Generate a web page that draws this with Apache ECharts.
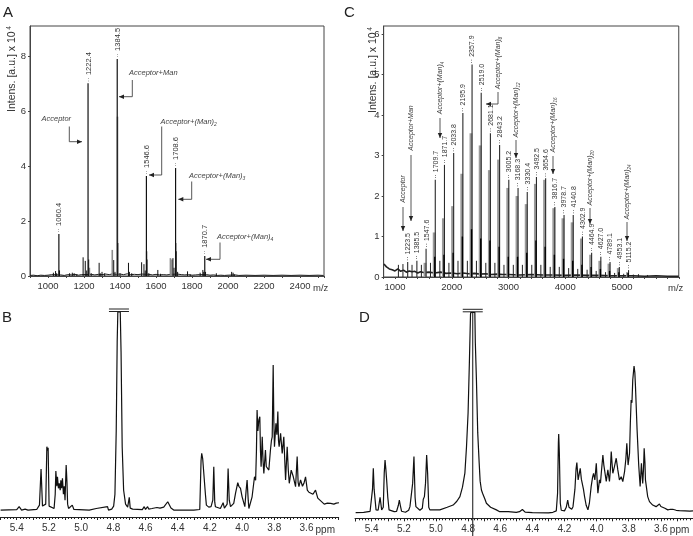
<!DOCTYPE html>
<html><head><meta charset="utf-8">
<script src="https://cdn.jsdelivr.net/npm/echarts@6/dist/echarts.min.js"></script>
<style>html,body{margin:0;padding:0;background:#fff}#c{width:693px;height:536px}</style>
</head><body><div id="c"></div><script>
// ---------- Panel A (MALDI, acceptor + few mannoses) ----------
const A_LABELLED = [[1060.4,1.53],[1222.4,7.02],[1384.5,7.9],[1546.6,3.64],[1708.6,3.93],[1870.7,0.73]];
const A_BLACK = [[1030,0.12],[1042,0.18],[1048,0.1],[1064,0.2],[1120,0.1],[1135,0.12],[1145,0.1],[1160,0.06],[1195,0.68],[1207,0.55],[1215,0.2],[1226,0.6],[1240,0.1],[1284,0.48],[1290,0.1],[1300,0.15],[1315,0.1],[1365,0.58],[1372,0.15],[1388,1.2],[1400,0.1],[1447,0.48],[1452,0.15],[1465,0.1],[1520,0.5],[1533,0.43],[1540,0.2],[1550,0.6],[1560,0.1],[1610,0.22],[1625,0.08],[1694,0.65],[1700,0.3],[1712,0.9],[1720,0.15],[1775,0.17],[1790,0.06],[1845,0.12],[1860,0.22],[1865,0.15],[1875,0.15],[1935,0.1],[2020,0.15],[2028,0.12],[2035,0.06]];
const A_GREY = [[1062,0.2],[1230,0.3],[1357,0.95],[1386,5.8],[1548,0.9],[1680,0.65],[1688,0.6],[1710,1.2]];
const A_NOISE = [[900,0.02],[920,0.03],[940,0.01],[960,0.03],[980,0.02],[1000,0.03],[1010,0.02],[1020,0.05],[1030,0.03],[1070,0.04],[1090,0.02],[1110,0.05],[1130,0.04],[1150,0.06],[1170,0.03],[1185,0.05],[1240,0.06],[1260,0.04],[1280,0.06],[1300,0.05],[1320,0.07],[1340,0.05],[1360,0.08],[1380,0.06],[1400,0.07],[1420,0.05],[1440,0.08],[1460,0.05],[1480,0.06],[1500,0.05],[1520,0.07],[1560,0.06],[1580,0.04],[1600,0.06],[1620,0.04],[1640,0.05],[1660,0.04],[1680,0.06],[1720,0.07],[1740,0.05],[1760,0.04],[1780,0.05],[1800,0.03],[1820,0.04],[1840,0.05],[1880,0.05],[1900,0.03],[1920,0.04],[1940,0.02],[1960,0.03],[1980,0.02],[2000,0.03],[2040,0.04],[2060,0.02],[2100,0.03],[2150,0.02],[2200,0.03],[2250,0.02],[2300,0.03],[2350,0.02],[2400,0.03],[2450,0.02],[2500,0.03],[2530,0.02]];
const A_X_LABELS = [1000,1200,1400,1600,1800,2000,2200,2400];

// ---------- Panel C (MALDI, polymer) ----------
const C_LABELLED = [[1223.5,0.37],[1385.5,0.4],[1547.6,0.7],[1709.7,2.4],[1871.7,2.77],[2033.8,3.06],[2195.9,4.05],[2357.9,5.25],[2519.0,4.55],[2681.1,3.55],[2843.2,3.26],[3005.2,2.4],[3168.3,2.2],[3330.4,2.1],[3492.5,2.47],[3654.6,2.44],[3816.7,1.73],[3978.7,1.53],[4140.8,1.53],[4302.9,1.0],[4464.9,0.6],[4627.0,0.5],[4789.1,0.37],[4953.1,0.25],[5115.2,0.17]];
const C_GREY = [[1528,0.35],[1690,1.1],[1852,1.45],[2014,1.75],[2176,2.55],[2338,3.55],[2500,3.25],[2662,2.64],[2824,2.9],[2986,2.2],[3149,2.0],[3311,1.8],[3473,2.3],[3635,2.4],[3797,1.7],[3959,1.45],[4121,1.35],[4284,0.95],[4446,0.55],[4608,0.4],[4770,0.33],[4934,0.22],[5096,0.12]];
const C_BLACK = [[1701,0.5],[1863,0.55],[2025,0.6],[2187,1.0],[2349,1.18],[2511,0.95],[2673,0.9],[2835,0.75],[2997,0.5],[3160,0.5],[3322,0.6],[3484,0.9],[3646,0.75],[3808,0.55],[3970,0.45],[4132,0.4],[4294,0.3],[4456,0.25],[4619,0.2],[4781,0.15],[4945,0.12],[5107,0.1]];
const C_MINOR = [[1060,0.3],[1140,0.32],[1300,0.3],[1465,0.3],[1625,0.35],[1790,0.4],[1950,0.35],[2110,0.4],[2275,0.4],[2435,0.4],[2600,0.35],[2760,0.35],[2920,0.3],[3085,0.3],[3245,0.3],[3410,0.3],[3570,0.3],[3735,0.25],[3895,0.25],[4060,0.22],[4220,0.2],[4385,0.18],[4545,0.15],[4710,0.12],[4870,0.1],[5030,0.08],[5200,0.06],[5290,0.07],[5450,0.05]];
const C_NOISE = [[805,0.32],[830,0.28],[850,0.25],[880,0.22],[900,0.2],[950,0.18],[1000,0.15],[1050,0.2],[1100,0.14],[1150,0.17],[1200,0.12],[1250,0.15],[1300,0.13],[1350,0.14],[1400,0.1],[1450,0.13],[1500,0.11],[1600,0.12],[1700,0.1],[1800,0.12],[1900,0.09],[2000,0.1],[2100,0.08],[2200,0.1],[2300,0.08],[2400,0.09],[2500,0.07],[2600,0.08],[2700,0.06],[2800,0.07],[2900,0.06],[3000,0.06],[3200,0.05],[3400,0.06],[3600,0.05],[3800,0.05],[4000,0.04],[4200,0.05],[4400,0.04],[4600,0.04],[4800,0.03],[5000,0.03],[5200,0.03],[5400,0.02],[5600,0.03],[5800,0.02],[6000,0.02]];
const C_X_LABELS = [1000,2000,3000,4000,5000];

// ---------- NMR spectra (ppm, relative intensity) ----------
const NMR_B = [[5.50,0],[5.40,0.2],[5.385,1.7],[5.37,0],[5.348,0.5],[5.33,0],[5.276,0.3],[5.259,2.5],[5.249,20.7],[5.240,2.0],[5.228,1.3],[5.220,3],[5.213,32],[5.209,30],[5.205,31.5],[5.199,2],[5.188,1.3],[5.168,0.8],[5.161,8],[5.157,19.7],[5.151,12],[5.147,16.8],[5.141,11],[5.136,13.5],[5.130,10],[5.126,15],[5.121,11],[5.116,16],[5.110,8],[5.105,12],[5.100,5],[5.093,22.7],[5.088,14],[5.084,3],[5.078,0.8],[5.068,0.3],[5.055,2.5],[5.045,0.3],[4.95,0],[4.906,0.8],[4.90,0],[4.836,1.7],[4.83,0],[4.81,0.5],[4.798,2],[4.790,8],[4.782,40],[4.776,85],[4.772,100],[4.757,100],[4.752,80],[4.745,32],[4.736,10],[4.724,3],[4.711,1.5],[4.701,6.4],[4.695,1],[4.68,0.5],[4.62,0.2],[4.608,1.7],[4.60,0.3],[4.587,1.7],[4.58,0.5],[4.56,0.8],[4.55,1.5],[4.529,1.3],[4.51,1],[4.487,1.5],[4.462,4.2],[4.442,1],[4.425,0],[4.30,0],[4.263,0.3],[4.255,25],[4.251,28.6],[4.245,26],[4.240,27],[4.234,25.3],[4.228,8],[4.222,2.5],[4.207,1.5],[4.193,1.7],[4.182,5],[4.176,21.9],[4.170,4],[4.166,1.7],[4.135,0.8],[4.118,3.7],[4.110,1],[4.104,0.8],[4.093,3],[4.087,21],[4.080,5],[4.072,1.7],[4.052,3.4],[4.041,8.4],[4.027,13.8],[4.020,12],[4.010,10.9],[4.000,6.7],[3.983,1.7],[3.975,10],[3.969,15.2],[3.962,5],[3.958,0.8],[3.938,6.7],[3.923,16.8],[3.916,15],[3.911,30],[3.907,50.5],[3.902,40],[3.896,45.5],[3.890,47.1],[3.886,30],[3.882,21.9],[3.875,37],[3.870,25],[3.865,18.5],[3.855,30.3],[3.850,22],[3.844,21.9],[3.834,20.2],[3.824,30.3],[3.818,35],[3.813,37],[3.807,73.2],[3.803,45],[3.799,32],[3.790,43.8],[3.784,38],[3.778,49.7],[3.774,35],[3.770,32],[3.761,38.7],[3.751,28.6],[3.741,37],[3.735,25],[3.730,15.2],[3.720,32],[3.713,20],[3.707,13.5],[3.695,20.2],[3.682,16.8],[3.668,11.8],[3.658,27],[3.652,14],[3.647,11.8],[3.637,15.2],[3.625,12],[3.616,13.5],[3.606,16.8],[3.595,10.1],[3.585,9],[3.575,8.4],[3.560,8],[3.544,10.1],[3.530,6],[3.523,5.9],[3.510,4.5],[3.502,4.2],[3.490,3],[3.481,2.5],[3.470,3.5],[3.450,3.4],[3.44,2.5],[3.430,3],[3.415,3.5],[3.398,3.7]];
const NMR_D = [[5.50,0.3],[5.45,0.5],[5.41,1.0],[5.404,1.7],[5.395,12],[5.39,22.4],[5.385,12],[5.373,1.7],[5.36,1.5],[5.348,8],[5.338,1.7],[5.328,3],[5.322,20],[5.317,26.5],[5.312,22],[5.307,16.6],[5.30,8],[5.292,1.7],[5.26,0.8],[5.245,1],[5.234,4],[5.228,6.6],[5.222,4],[5.214,1],[5.19,0.5],[5.17,1.5],[5.162,3.3],[5.155,2.5],[5.152,3],[5.145,15],[5.137,28.2],[5.13,8],[5.125,3.3],[5.12,2.5],[5.10,1.5],[5.085,2.5],[5.079,7],[5.072,8.3],[5.065,15],[5.058,29],[5.052,20],[5.045,3],[5.038,1.7],[5.00,1.7],[4.976,1.7],[4.93,3],[4.893,4.1],[4.87,6],[4.851,8.3],[4.835,13],[4.820,20],[4.81,33],[4.800,50],[4.792,75],[4.785,99],[4.783,100],[4.758,100],[4.755,85],[4.748,66],[4.74,40],[4.731,25],[4.725,16],[4.717,11.6],[4.71,10],[4.702,9.1],[4.695,7],[4.686,5],[4.66,3],[4.624,1.7],[4.603,0.8],[4.55,0.8],[4.50,0.5],[4.48,0.8],[4.462,1.9],[4.445,0.6],[4.40,0.3],[4.30,0.2],[4.272,0.5],[4.251,1.2],[4.243,10],[4.238,35],[4.236,39.5],[4.232,30],[4.226,5],[4.22,1.5],[4.20,1.2],[4.189,3],[4.18,6.6],[4.172,3],[4.155,2],[4.147,3.3],[4.135,12],[4.128,22],[4.123,25.2],[4.115,16.6],[4.110,16.6],[4.102,22.4],[4.095,17],[4.089,16.6],[4.082,12],[4.075,8.3],[4.065,4],[4.054,1.7],[4.045,5],[4.034,13.3],[4.025,18],[4.019,19.9],[4.011,16.6],[4.002,24.9],[3.995,14],[3.992,10],[3.982,16.6],[3.976,15],[3.971,19.9],[3.961,29],[3.955,24],[3.951,23.2],[3.940,15.8],[3.930,21.6],[3.920,15.8],[3.914,22],[3.909,30.7],[3.904,25],[3.899,19.9],[3.889,23.2],[3.878,27.4],[3.872,24],[3.868,21.6],[3.858,16.6],[3.847,18.2],[3.837,15.8],[3.826,20.7],[3.818,27],[3.812,34.8],[3.804,24],[3.795,29.9],[3.790,45],[3.785,56.4],[3.780,55],[3.775,66.3],[3.767,73.3],[3.762,70],[3.758,63],[3.748,41.5],[3.738,24],[3.729,13.3],[3.721,24.9],[3.713,14.9],[3.708,22],[3.704,32.3],[3.699,25],[3.696,16.6],[3.682,8.3],[3.671,5.8],[3.66,5],[3.651,4.1],[3.64,3.5],[3.630,3.3],[3.62,3.5],[3.609,4.6],[3.60,3.4],[3.588,2.5],[3.575,2.5],[3.557,1.7],[3.54,2],[3.526,2],[3.505,1.5],[3.485,1.3],[3.45,1.2],[3.42,1.1],[3.40,1.2]];
const NMR_LABELS = [5.4,5.2,5.0,4.8,4.6,4.4,4.2,4.0,3.8,3.6];
const WATER_PEAK_B = 4.765, WATER_PEAK_D = 4.771;

// ---------- helpers ----------
const FONT = "'Liberation Sans', Arial, Helvetica, sans-serif";
const INK = '#333';

function sticks(xi, color, width, data, labels, labelFont) {
  return {
    type: 'custom', xAxisIndex: xi, yAxisIndex: xi, data: data, silent: true, clip: true,
    renderItem: function (params, api) {
      const x = api.value(0), h = api.value(1);
      const p0 = api.coord([x, 0]), p1 = api.coord([x, h]);
      const ch = [{type: 'line', shape: {x1: p0[0], y1: p0[1], x2: p1[0], y2: p1[1]},
        style: {stroke: color, lineWidth: width}}];
      if (labels) {
        ch.push({type: 'text', x: p1[0] + 0.5, y: p1[1] - 1, rotation: Math.PI / 2,
          style: {text: '·· ' + data[params.dataIndex][0].toFixed(1), font: labelFont,
            fill: INK, align: 'left', verticalAlign: 'middle'}});
      }
      return {type: 'group', children: ch};
    }
  };
}
function noise(xi, data, w) {
  return {type: 'line', xAxisIndex: xi, yAxisIndex: xi, data: data, showSymbol: false, silent: true,
    lineStyle: {color: '#222', width: w}, z: 1};
}
function nmr(xi, data) {
  return {type: 'line', xAxisIndex: xi, yAxisIndex: xi, data: data, showSymbol: false, silent: true,
    clip: true, lineStyle: {color: '#111', width: 1.2}};
}
function msXAxis(gi, min, max, interval, labels) {
  return {gridIndex: gi, type: 'value', min: min, max: max, interval: interval,
    axisLine: {show: true, lineStyle: {color: '#444', width: 1}},
    axisTick: {show: true, length: 2, lineStyle: {color: '#444'}},
    splitLine: {show: false},
    axisLabel: {margin: 5, fontSize: 9.5, color: INK, fontFamily: FONT,
      formatter: v => labels.indexOf(Math.round(v)) >= 0 ? String(Math.round(v)) : ''}};
}
function msYAxis(gi, max, interval) {
  return {gridIndex: gi, type: 'value', min: 0, max: max, interval: interval,
    axisLine: {show: true, lineStyle: {color: '#444'}},
    axisTick: {show: true, length: 2, lineStyle: {color: '#444'}},
    splitLine: {show: false},
    axisLabel: {margin: 4, fontSize: 9.5, color: INK, fontFamily: FONT, showMaxLabel: false,
      formatter: v => (Math.abs(v - Math.round(v)) < 1e-6 ? String(Math.round(v)) : '')}};
}
function nmrXAxis(gi) {
  return {gridIndex: gi, type: 'value', min: 3.4, max: 5.504, inverse: true, interval: 0.1,
    axisLine: {show: true, onZero: false, lineStyle: {color: '#222', width: 1}},
    axisTick: {show: true, length: 3, lineStyle: {color: '#222'}},
    minorTick: {show: true, splitNumber: 5, length: 2, lineStyle: {color: '#222'}},
    splitLine: {show: false},
    axisLabel: {margin: 6, fontSize: 10, color: INK, fontFamily: FONT,
      formatter: v => {
        const r = Math.round(v * 10) / 10;
        return NMR_LABELS.indexOf(r) >= 0 ? r.toFixed(1) : '';
      }}};
}
function nmrYAxis(gi, min) {
  return {gridIndex: gi, type: 'value', min: min, max: 100, show: false};
}
const gridBase = {containLabel: false, outerBoundsMode: 'none'};

const chart = echarts.init(document.getElementById('c'), null, {renderer: 'canvas'});
chart.setOption({
  animation: false,
  backgroundColor: '#fff',
  grid: [
    Object.assign({left: 30, top: 26, width: 294, height: 250, show: true, borderColor: '#444', borderWidth: 1}, gridBase),
    Object.assign({left: 383.65, top: 26, width: 295.1, height: 251, show: true, borderColor: '#444', borderWidth: 1}, gridBase),
    Object.assign({left: 0, top: 312, width: 338.7, height: 205}, gridBase),
    Object.assign({left: 355, top: 312.3, width: 338, height: 206}, gridBase)
  ],
  xAxis: [msXAxis(0, 900, 2533, 100, A_X_LABELS), msXAxis(1, 800, 6000, 200, C_X_LABELS), nmrXAxis(2), nmrXAxis(3)],
  yAxis: [msYAxis(0, 9.1, 2), msYAxis(1, 6.2, 1), nmrYAxis(2, -3.5), nmrYAxis(3, -2.49)],
  series: [
    noise(0, A_NOISE, 1),
    sticks(0, '#8c8c8c', 1.6, A_GREY),
    sticks(0, '#111', 1, A_BLACK),
    sticks(0, '#111', 1.2, A_LABELLED, true, '7.5px ' + FONT),
    noise(1, C_NOISE, 1.6),
    sticks(1, '#9a9a9a', 2.8, C_GREY),
    sticks(1, '#222', 1, C_MINOR),
    sticks(1, '#2a2a2a', 1.1, C_LABELLED, true, '7px ' + FONT),
    sticks(1, '#000', 1.4, C_BLACK),
    nmr(2, NMR_B),
    nmr(3, NMR_D)
  ]
});

// ---------- annotations ----------
const g = [];
const TXT = '#444';
function label(x, y, text, size, opts) {
  g.push(Object.assign({type: 'text', x: x, y: y, silent: true,
    style: Object.assign({text: text, font: size + 'px ' + FONT, fill: INK, align: 'left', verticalAlign: 'middle'}, opts || {})}));
}
function anno(x, y, main, sub, size, rotated) {
  const txt = sub ? '{n|' + main + '}{s|' + sub + '}' : '{n|' + main + '}';
  g.push({type: 'text', x: x, y: y, rotation: rotated ? Math.PI / 2 : 0, silent: true,
    style: {text: txt, align: rotated ? 'center' : 'left', verticalAlign: 'middle',
      rich: {n: {font: 'italic ' + size + 'px ' + FONT, fill: TXT, lineHeight: size + 3},
             s: {font: 'italic ' + (size - 2.5) + 'px ' + FONT, fill: TXT, lineHeight: size + 3, verticalAlign: 'bottom'}}}});
}
function arrow(points, dir) {
  const t = points[points.length - 1];
  let head;
  if (dir === 'right') head = [[t[0], t[1]], [t[0] - 5, t[1] - 2.2], [t[0] - 5, t[1] + 2.2]];
  if (dir === 'left') head = [[t[0], t[1]], [t[0] + 5, t[1] - 2.2], [t[0] + 5, t[1] + 2.2]];
  if (dir === 'down') head = [[t[0], t[1]], [t[0] - 2.2, t[1] - 5], [t[0] + 2.2, t[1] - 5]];
  g.push({type: 'polyline', silent: true, shape: {points: points}, style: {stroke: TXT, lineWidth: 0.9, fill: null}});
  g.push({type: 'polygon', silent: true, shape: {points: head}, style: {fill: '#222'}});
}
// panel A
anno(41.5, 119, 'Acceptor', null, 7.5);
arrow([[69.3, 126.5], [69.3, 141.7], [82, 141.7]], 'right');
anno(129, 72.7, 'Acceptor+Man', null, 7.5);
arrow([[132.3, 80], [132.3, 96.7], [119, 96.7]], 'left');
anno(160.5, 121.7, 'Acceptor+(Man)', '2', 7.5);
arrow([[161.7, 126.5], [161.7, 175], [149, 175]], 'left');
anno(189, 176, 'Acceptor+(Man)', '3', 7.5);
arrow([[191.7, 181.5], [191.7, 199.3], [178.3, 199.3]], 'left');
anno(217, 237.3, 'Acceptor+(Man)', '4', 7.5);
arrow([[220, 242.5], [220, 259.3], [206, 259.3]], 'left');
// panel C
anno(403, 189, 'Acceptor', null, 7, true);
arrow([[403, 207], [403, 231]], 'down');
anno(411, 128, 'Acceptor+Man', null, 7, true);
arrow([[411, 155], [411, 221]], 'down');
anno(440, 88, 'Acceptor+(Man)', '4', 7, true);
arrow([[440, 118], [440, 138]], 'down');
anno(498, 63, 'Acceptor+(Man)', '8', 7, true);
arrow([[498, 92], [498, 104], [486, 104]], 'left');
anno(516, 110, 'Acceptor+(Man)', '12', 7, true);
arrow([[516, 140], [516, 158]], 'down');
anno(553, 125, 'Acceptor+(Man)', '16', 7, true);
arrow([[553, 156], [553, 174]], 'down');
anno(590, 178, 'Acceptor+(Man)', '20', 7, true);
arrow([[590, 208], [590, 224]], 'down');
anno(627, 192, 'Acceptor+(Man)', '24', 7, true);
arrow([[627, 222], [627, 241]], 'down');

// axis titles
function ytitle(x, y) {
  g.push({type: 'text', x: x, y: y, rotation: Math.PI / 2, silent: true,
    style: {text: '{a|Intens. [a.u.] x 10}{b| 4}', align: 'center', verticalAlign: 'middle',
      rich: {a: {font: '10.5px ' + FONT, fill: INK, lineHeight: 13},
             b: {font: '6.5px ' + FONT, fill: INK, lineHeight: 13, verticalAlign: 'top'}}}});
}
ytitle(12, 69);
ytitle(373, 70);
label(313, 288, 'm/z', 9.5);
label(668, 288, 'm/z', 9.5);
// panel letters
label(3, 12.5, 'A', 15, {fill: '#222'});
label(344, 12.5, 'C', 15, {fill: '#222'});
label(2, 318, 'B', 15, {fill: '#222'});
label(359, 318, 'D', 15, {fill: '#222'});

// ppm units and break marks on the water signals
const yTopB = chart.convertToPixel({yAxisIndex: 2}, 100);
const yTopD = chart.convertToPixel({yAxisIndex: 3}, 100);
const xB = chart.convertToPixel({xAxisIndex: 2}, WATER_PEAK_B);
const xD = chart.convertToPixel({xAxisIndex: 3}, WATER_PEAK_D);
const x36B = chart.convertToPixel({xAxisIndex: 2}, 3.6);
const x36D = chart.convertToPixel({xAxisIndex: 3}, 3.6);
label(x36B + 9, 530, 'ppm', 10);
label(x36D + 9, 530, 'ppm', 10);
[[xB, yTopB], [xD, yTopD]].forEach(function (p) {
  g.push({type: 'rect', silent: true, shape: {x: p[0] - 9, y: p[1] - 3, width: 18, height: 2.5}, style: {fill: '#fff'}});
  g.push({type: 'line', silent: true, shape: {x1: p[0] - 10, y1: p[1] - 3, x2: p[0] + 10, y2: p[1] - 3}, style: {stroke: '#222', lineWidth: 1}});
  g.push({type: 'line', silent: true, shape: {x1: p[0] - 10, y1: p[1] - 0.5, x2: p[0] + 10, y2: p[1] - 0.5}, style: {stroke: '#222', lineWidth: 1}});
});
g.push({type: 'line', silent: true, shape: {x1: xD, y1: yTopD, x2: xD, y2: 536}, style: {stroke: '#111', lineWidth: 1}});

chart.setOption({graphic: {elements: g}});
</script></body></html>
